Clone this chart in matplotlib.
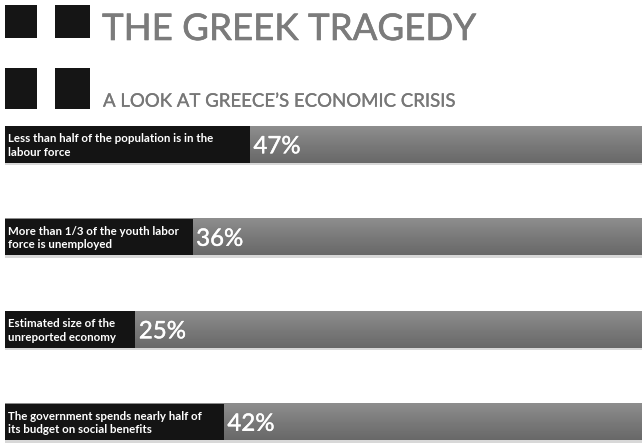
import numpy as np
import matplotlib
matplotlib.use("Agg")
import matplotlib.pyplot as plt
from matplotlib.patches import Rectangle
from matplotlib.colors import LinearSegmentedColormap
import matplotlib.patheffects as pe

title = "THE GREEK TRAGEDY"
subtitle = "A LOOK AT GREECE\u2019S ECONOMIC CRISIS"
labels = [
    "Less than half of the population is in the\nlabour force",
    "More than 1/3 of the youth labor\nforce is unemployed",
    "Estimated size of the\nunreported economy",
    "The government spends nearly half of\nits budget on social benefits",
]
values = [47, 36, 25, 42]

W, H = 642, 443
fig = plt.figure(figsize=(W / 100, H / 100), dpi=100)
fig.patch.set_facecolor("white")

FONT = "Lato"

# header squares
for (x0, y0, w, h) in [(5, 5, 32, 33), (55, 5, 35, 33), (5, 68, 32, 41), (55, 68, 35, 41)]:
    fig.add_artist(Rectangle((x0 / W, 1 - (y0 + h) / H), w / W, h / H,
                             transform=fig.transFigure, color="#151515", lw=0))

fig.text(102 / W, 1 - 40 / H, title, fontsize=26.4, color="#7b7b7b",
         family=FONT, va="baseline", ha="left",
         path_effects=[pe.withStroke(linewidth=0.45, foreground="#7b7b7b")])
fig.text(103 / W, 1 - 106.7 / H, subtitle, fontsize=13.4, color="#777777",
         family=FONT, va="baseline", ha="left",
         path_effects=[pe.withStroke(linewidth=0.2, foreground="#777777")])

top_px = 98.25
ax = fig.add_axes([5 / W, 0, 1 - 5 / W, 1 - top_px / H])
xmax = 122.3
ax.set_xlim(0, xmax)
ax.set_ylim(3.227, -0.5)
ax.axis("off")

bh = 0.39
grad = np.linspace(0, 1, 64).reshape(-1, 1)
cmap = LinearSegmentedColormap.from_list("g", ["#8e8e8e", "#7a7a7a", "#686868"])
for i, (lab, v) in enumerate(zip(labels, values)):
    ax.barh(i + 0.03, xmax, height=bh, left=0, color="#d8d8d8", zorder=1)
    ax.imshow(grad, extent=(0, xmax, i + bh / 2, i - bh / 2), aspect="auto",
              cmap=cmap, zorder=2, interpolation="bilinear")
    ax.barh(i, v, height=bh, color="#141414", zorder=3)
    ax.text(0.6, i + 0.01, lab, color="white", fontsize=8.3, family=FONT,
            weight="bold", va="center", ha="left", zorder=4, linespacing=1.25)
    ax.text(v + 0.7, i + 0.095, f"{v}%", color="white", fontsize=17.3,
            family=FONT, va="baseline", ha="left", zorder=4,
            path_effects=[pe.withStroke(linewidth=0.3, foreground="white")])
ax.set_xlim(0, xmax)
ax.set_ylim(3.227, -0.5)

fig.savefig("out.png", dpi=100, facecolor="white")
